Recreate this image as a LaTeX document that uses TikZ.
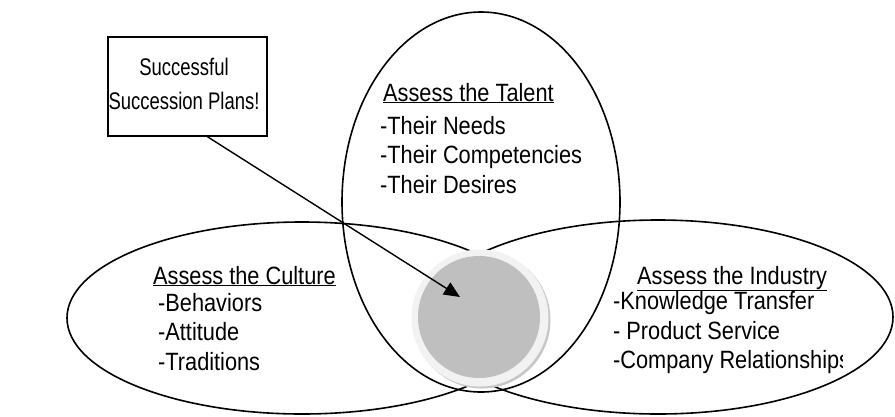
\documentclass[tikz,border=0pt]{standalone}
\usepackage{fontspec}
\setmainfont{Liberation Sans}[FakeStretch=0.87]
\newfontfamily\plansfont{Liberation Sans}[FakeStretch=0.77]
\usetikzlibrary{shapes.geometric,arrows.meta}
\tikzset{
  oval/.style={
    draw, ellipse, inner sep=0pt, line width=1.6pt
  },
  txt/.style={
    anchor=north west, align=left, inner sep=0pt,
    font=\fontsize{25}{29.5}\selectfont
  },
  head/.style={
    anchor=base west, inner sep=0pt, font=\fontsize{25}{29.5}\selectfont
  },
  msgbox/.style={
    draw, rectangle, line width=1.5pt, minimum width=159pt, minimum height=99pt
  }
}

\begin{document}
\begin{tikzpicture}[x=1pt,y=-1pt]
  \useasboundingbox (0,0) rectangle (895,416);

  % the three ovals
  \node[oval, minimum width=278pt, minimum height=380pt] (talent) at (481,202) {};
  \node[oval, minimum width=470pt, minimum height=192pt] (culture) at (302,318) {};
  \node[oval, minimum width=470pt, minimum height=194pt] (industry) at (658,317) {};

  % centre disc
  \node[circle, fill=black!22, minimum size=137pt, inner sep=0pt] (shadow) at (482,320) {};
  \node[circle, fill=black!5, minimum size=137pt, inner sep=0pt] (ring) at (480,318) {};
  \node[circle, fill=black!25, minimum size=122pt, inner sep=0pt] (core) at (479,317) {};
  \coordinate (tip) at (460,297);

  % texts
  \node[head] (talenth) at (383,101) {\underline{Assess the Talent}};
  \node[txt] (talentl) at (380,116) {-Their Needs\\-Their Competencies\\-Their Desires};

  \node[head] (cultureh) at (153,284) {\underline{Assess the Culture}};
  \node[txt] (culturel) at (158,293) {-Behaviors\\-Attitude\\-Traditions};

  \node[head] (industryh) at (637,284) {\underline{Assess the Industry}};
  \begin{scope}
    \clip (0,0) rectangle (842,416);
    \node[txt] (industryl) at (613,291.5) {-Knowledge Transfer\\- Product Service\\-Company Relationships};
  \end{scope}

  \node[msgbox] (plans) at (187.5,86.5) {};
  \node[align=center, inner sep=0pt, font=\plansfont\fontsize{24}{34.5}\selectfont] (planst) at (184,84) {Successful\\Succession Plans!};

  \draw[-{Triangle[length=16pt,width=14pt]}, line width=1.4pt] ([xshift=20pt]plans.south) -- (tip);
\end{tikzpicture}
\end{document}
